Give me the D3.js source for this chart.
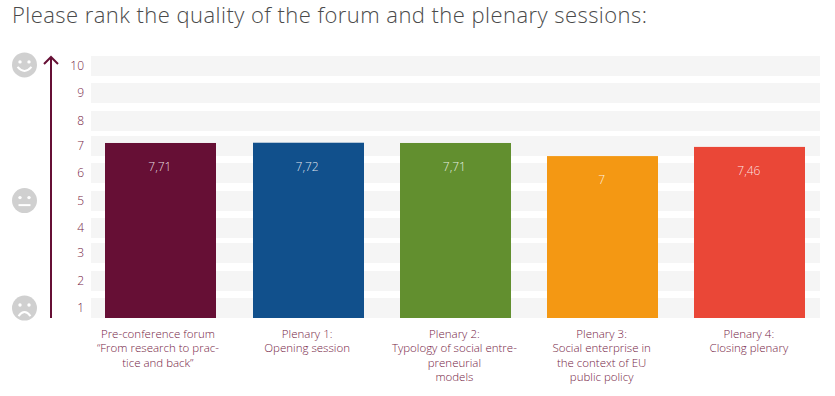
<!DOCTYPE html>
<html><head><meta charset="utf-8">
<script src="https://cdn.jsdelivr.net/npm/d3@7"></script>
<style>html,body{margin:0;padding:0;background:#fff}svg{display:block}text{font-family:"Open Sans",sans-serif}</style>
</head><body><svg id="c" width="835" height="396"></svg>
<script>
const title = "Please rank the quality of the forum and the plenary sessions:";
const categories = ["p0","p1","p2","p3","p4"];
const categoryLines = [
  ["Pre-conference forum","“From research to prac-","tice and back”"],
  ["Plenary 1:","Opening session"],
  ["Plenary 2:","Typology of social entre-","preneurial","models"],
  ["Plenary 3:","Social enterprise in","the context of EU","public policy"],
  ["Plenary 4:","Closing plenary"]
];
const barHeights = [6.68,6.69,6.68,6.18,6.53];
const valueLabels = ["7,71","7,72","7,71","7","7,46"];
const barColors = ["#660f35","#11508c","#628f2f","#f49813","#ea4737"];
const ticks = [1,2,3,4,5,6,7,8,9,10];
const tickTops = [298,271,243,218,191,163,136,111,83,56];
const faces = [{v:9.66,m:"smile"},{v:4.48,m:"flat"},{v:0.38,m:"sad"}];

const svg = d3.select("#c");
const y = d3.scaleLinear().domain([0,10]).range([318,56]);
const x = d3.scaleBand().domain(categories).range([105.4,805.4]).paddingInner(0.246);
const maroon = "#660f35", labelColor = "#751c45", grey = "#d0d0d0";

svg.append("text").attr("x",12).attr("y",23).attr("font-size",22).attr("fill","#4a4a4a").attr("font-weight",300)
   .attr("textLength",635).attr("lengthAdjust","spacing").text(title);

svg.append("g").selectAll("rect").data(tickTops).join("rect")
   .attr("x",91).attr("width",729).attr("y",d=>d).attr("height",20).attr("fill","#f5f5f5");

svg.append("g").selectAll("text").data(ticks).join("text")
   .attr("x",84).attr("y",(d,i)=>tickTops[i]+10).attr("dy","0.36em").attr("text-anchor","end")
   .attr("font-size",12).attr("font-weight",300).attr("fill",labelColor).text(d=>d);

svg.append("g").selectAll("rect").data(categories).join("rect")
   .attr("x",d=>Math.round(x(d))).attr("width",Math.round(x.bandwidth()))
   .attr("y",(d,i)=>y(barHeights[i])).attr("height",(d,i)=>y(0)-y(barHeights[i]))
   .attr("fill",(d,i)=>barColors[i]);

svg.append("g").selectAll("text").data(categories).join("text")
   .attr("x",d=>x(d)+x.bandwidth()/2-1).attr("y",(d,i)=>y(barHeights[i])+24).attr("dy","0.36em")
   .attr("text-anchor","middle").attr("font-size",12).attr("font-weight",300).attr("fill","#fff").attr("fill-opacity",0.85)
   .text((d,i)=>valueLabels[i]);

const lab = svg.append("g").selectAll("text").data(categories).join("text")
   .attr("text-anchor","middle").attr("font-size",11.5).attr("font-weight",300).attr("fill",labelColor);
lab.each(function(d,i){
  const cx = x(d)+x.bandwidth()/2 - (i===0?3:1);
  d3.select(this).selectAll("tspan").data(categoryLines[i]).join("tspan")
    .attr("x",cx).attr("y",(l,j)=>338+j*14.3).text(l=>l);
});

// arrow
const ax = 51, a = svg.append("g").attr("fill","none").attr("stroke",maroon).attr("stroke-width",2);
a.append("line").attr("x1",ax).attr("x2",ax).attr("y1",y(0)).attr("y2",y(10)+2);
a.append("path").attr("d",d3.line()([[ax-7,y(10)+8],[ax,y(10)+1],[ax+7,y(10)+8]]));

// faces
const fg = svg.append("g").selectAll("g").data(faces).join("g")
   .attr("transform",d=>`translate(24.5,${y(d.v)})`);
fg.append("circle").attr("r",12.5).attr("fill",grey);
fg.selectAll("circle.e").data([-4.5,4.5]).join("circle").attr("class","e")
   .attr("cx",d=>d).attr("cy",-3).attr("r",1.7).attr("fill","#fff");
fg.append("path").attr("fill","none").attr("stroke","#fff").attr("stroke-width",2)
   .attr("d",d=> d.m==="smile"?"M-7,2Q0,10 7,2": d.m==="sad"?"M-6,8Q0,0 6,8":"M-6,4.5H6");
</script></body></html>
